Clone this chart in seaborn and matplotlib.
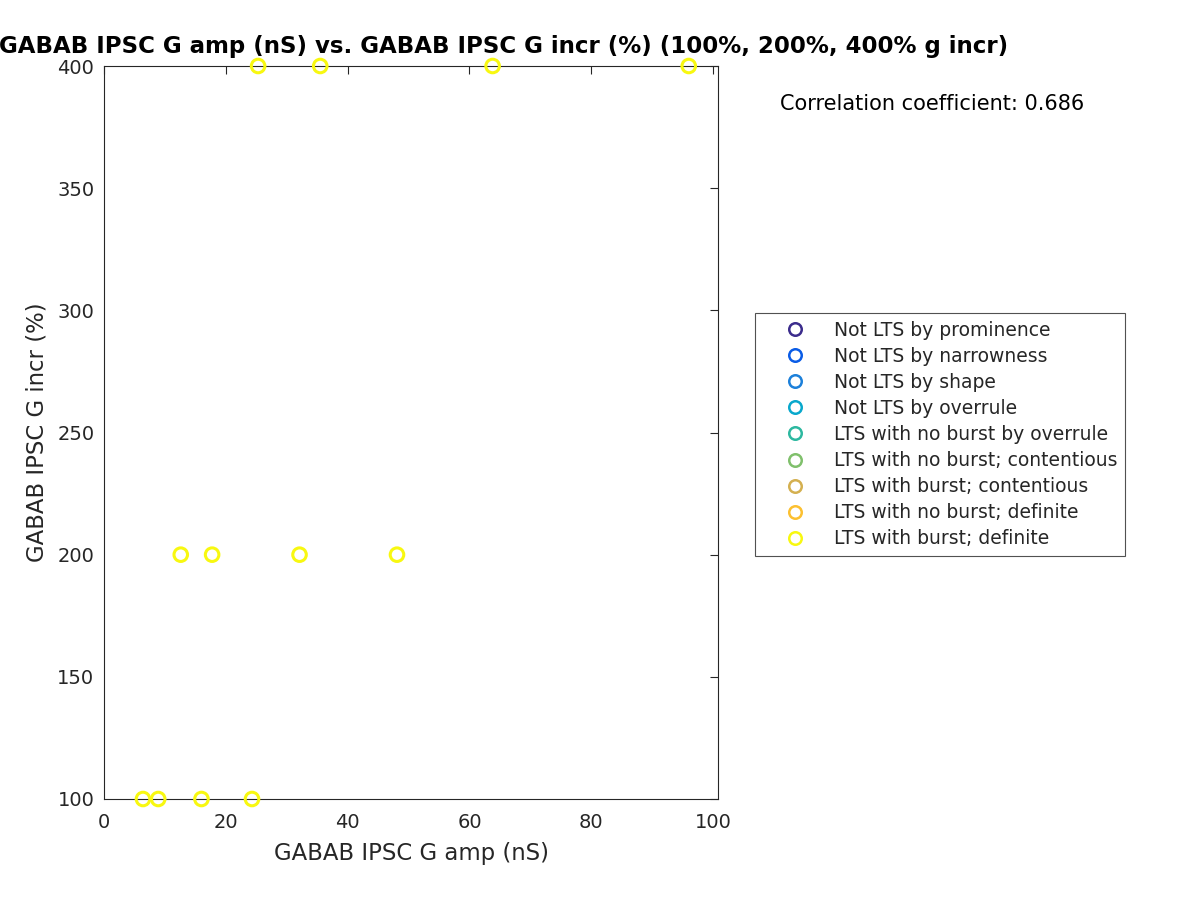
import matplotlib
matplotlib.use("Agg")
import matplotlib.pyplot as plt
from matplotlib.lines import Line2D
import seaborn as sns
import pandas as pd

# ---- data ----
categories = ["Not LTS by prominence", "Not LTS by narrowness", "Not LTS by shape",
              "Not LTS by overrule", "LTS with no burst by overrule",
              "LTS with no burst; contentious", "LTS with burst; contentious",
              "LTS with no burst; definite", "LTS with burst; definite"]
colors = ["#3b2c8c", "#0a5ce6", "#1c80da", "#08a8cc", "#2db8a0",
          "#80c06c", "#d4b050", "#fcc030", "#f8f810"]
g_amp = [6.4, 8.9, 16.0, 24.3, 12.6, 17.75, 32.1, 48.1, 25.3, 35.5, 63.8, 96.0]
g_incr = [100, 100, 100, 100, 200, 200, 200, 200, 400, 400, 400, 400]
point_class = ["LTS with burst; definite"] * 12
title_text = "GABAB IPSC G amp (nS) vs. GABAB IPSC G incr (%) (100%, 200%, 400% g incr)"
corr_text = "Correlation coefficient: 0.686"
xticks = [0, 20, 40, 60, 80, 100]
yticks = [100, 150, 200, 250, 300, 350, 400]

df = pd.DataFrame({"x": g_amp, "y": g_incr, "cls": point_class})
palette = dict(zip(categories, colors))

sns.set_style("white")
plt.rcParams["font.family"] = ["DejaVu Sans"]

fig = plt.figure(figsize=(12, 9), dpi=100)
ax = fig.add_axes([104 / 1200, 1 - 799 / 900, (718 - 104) / 1200, (799 - 66) / 900])

for cat in categories:
    sub = df[df["cls"] == cat]
    if len(sub):
        sns.scatterplot(data=sub, x="x", y="y", ax=ax, marker="o", s=95,
                        facecolors="none", edgecolor=palette[cat], linewidth=2.2,
                        legend=False, clip_on=False, zorder=3)

ax.set_xlim(0, 100.8)
ax.set_ylim(100, 400)
ax.set_xticks(xticks)
ax.set_yticks(yticks)
ax.tick_params(direction="in", length=6, width=0.8, labelsize=14, pad=7,
               top=True, right=True, colors="#262626", labelcolor="#262626")
ax.tick_params(axis="x", pad=10)
for sp in ax.spines.values():
    sp.set_visible(True)
    sp.set_linewidth(0.8)
    sp.set_color("#262626")
ax.set_xlabel("GABAB IPSC G amp (nS)", fontsize=16.4, color="#262626", labelpad=7)
ax.set_ylabel("GABAB IPSC G incr (%)", fontsize=16.4, color="#262626", labelpad=6)

fig.text(504 / 1200, 1 - 47 / 900, title_text, fontsize=16.5, fontweight="bold",
         ha="center", va="center", color="black")

fig.text(780 / 1200, 1 - 104 / 900, corr_text, fontsize=15, va="center", ha="left",
         color="black")

handles = [Line2D([], [], linestyle="none", marker="o", markersize=9,
                  markerfacecolor="none", markeredgecolor=c, markeredgewidth=1.8)
           for c in colors]
leg = fig.legend(handles, categories, loc="upper left",
                 bbox_to_anchor=(755 / 1200, 1 - 313 / 900), fontsize=13.5,
                 frameon=True, fancybox=False, edgecolor="#262626",
                 borderpad=0.4, labelspacing=0.38, handletextpad=0.3,
                 handlelength=3.5, borderaxespad=0)
leg.get_frame().set_linewidth(0.8)

fig.savefig("out.png", dpi=100)
